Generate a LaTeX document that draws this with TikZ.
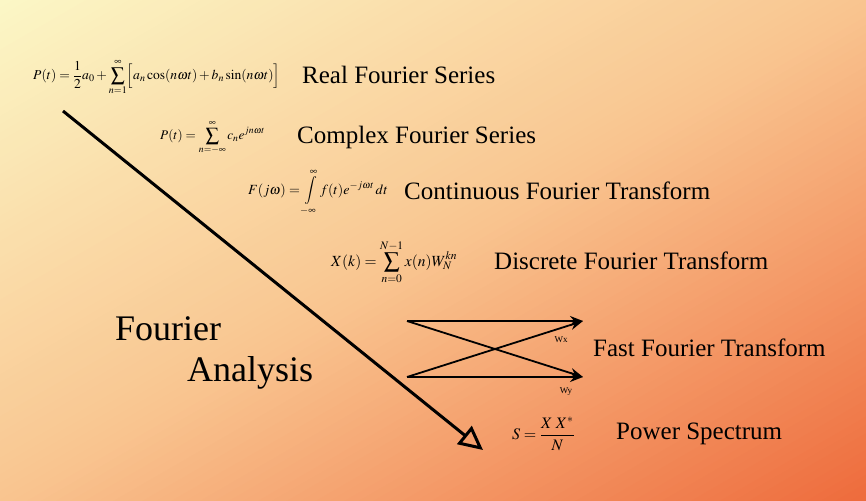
\documentclass[tikz,border=0pt]{standalone}
\usepackage{mathptmx}
\usepackage[no-math]{fontspec}
\setmainfont{Liberation Serif}
\usetikzlibrary{arrows.meta}
\definecolor{bgA}{HTML}{FBF7C6}
\definecolor{bgB}{HTML}{F9C590}
\definecolor{bgC}{HTML}{EE6B3C}
\tikzset{
  lbl/.style={anchor=base west, inner sep=0pt, font=\fontsize{25}{30}\selectfont},
  frm/.style={anchor=west, inner sep=0pt},
  bigtxt/.style={anchor=base west, inner sep=0pt, font=\fontsize{36}{42}\selectfont},
  wlbl/.style={inner sep=0pt, font=\fontsize{9}{10}\selectfont},
  bfly/.style={line width=1.8pt, -{Stealth[length=13pt,width=10pt]}},
  mainarrow/.style={line width=3pt, -{Triangle[open,length=24pt,width=23pt]}}
}
\begin{document}
\begin{tikzpicture}[x=1pt,y=-1pt]
\useasboundingbox (0,0) rectangle (866,500);
% diagonal gradient background, isolines parallel to the anti-diagonal
\begin{scope}
\clip (0,0) rectangle (866,500);
\foreach \i in {0,...,119}{
  \pgfmathsetmacro{\ta}{\i/120}
  \pgfmathsetmacro{\tb}{(\i+1.6)/120}
  \pgfmathsetmacro{\tm}{(\i+0.5)/120}
  \pgfmathsetmacro{\pa}{min(100,max(0,200*\tm))}
  \pgfmathsetmacro{\pb}{min(100,max(0,200*\tm-100))}
  \ifdim\tm pt<0.5pt
    \colorlet{stripcol}{bgB!\pa!bgA}
  \else
    \colorlet{stripcol}{bgC!\pb!bgB}
  \fi
  \fill[stripcol] ({866*\ta+866},{500*\ta-500}) -- ({866*\ta-866},{500*\ta+500})
     -- ({866*\tb-866},{500*\tb+500}) -- ({866*\tb+866},{500*\tb-500}) -- cycle;
}
\end{scope}

% formulas
\node[frm, font=\fontsize{13.6}{16}\selectfont] (f1) at (33,77) {$\displaystyle P(t)=\frac{1}{2}a_0+\sum_{n=1}^{\infty}\Bigl[a_n\cos(n\omega t)+b_n\sin(n\omega t)\Bigr]$};
\node[frm, font=\fontsize{13.2}{16}\selectfont] (f2) at (160,137) {$\displaystyle P(t)=\sum_{n=-\infty}^{\infty}c_n e^{jn\omega t}$};
\node[frm, font=\fontsize{14}{16}\selectfont] (f3) at (248,192) {$\displaystyle F(j\omega)=\int\limits_{-\infty}^{\infty}f(t)e^{-j\omega t}\,dt$};
\node[frm, font=\fontsize{15.5}{18}\selectfont] (f4) at (331,262) {$\displaystyle X(k)=\sum_{n=0}^{N-1}x(n)W_N^{kn}$};
\node[frm, font=\fontsize{16}{19}\selectfont] (f5) at (512,434) {$\displaystyle S=\frac{X\;X^{*}}{\,N\,}$};

% labels
\node[lbl] (t1) at (302,84) {Real Fourier Series};
\node[lbl] (t2) at (297,143) {Complex Fourier Series};
\node[lbl] (t3) at (404,199) {Continuous Fourier Transform};
\node[lbl] (t4) at (494,269) {Discrete Fourier Transform};
\node[lbl] (t5) at (593,356) {Fast Fourier Transform};
\node[lbl] (t6) at (616,439) {Power Spectrum};

\node[bigtxt] (fa1) at (115,340) {Fourier};
\node[bigtxt] (fa2) at (187,381) {Analysis};

% main arrow
\coordinate (ms) at (63,111);
\coordinate (me) at (483,450);
\draw[mainarrow] (ms) -- (me);

% butterfly
\coordinate (a1) at (407,321);
\coordinate (a2) at (407,377);
\coordinate (b1) at (583,321);
\coordinate (b2) at (583,377);
\draw[bfly] (a1) -- (b1);
\draw[bfly] (a2) -- (b2);
\draw[bfly] (a1) -- (b2);
\draw[bfly] (a2) -- (b1);
\node[wlbl] (wx) at (561,340) {Wx};
\node[wlbl] (wy) at (566,392) {Wy};
\end{tikzpicture}
\end{document}
